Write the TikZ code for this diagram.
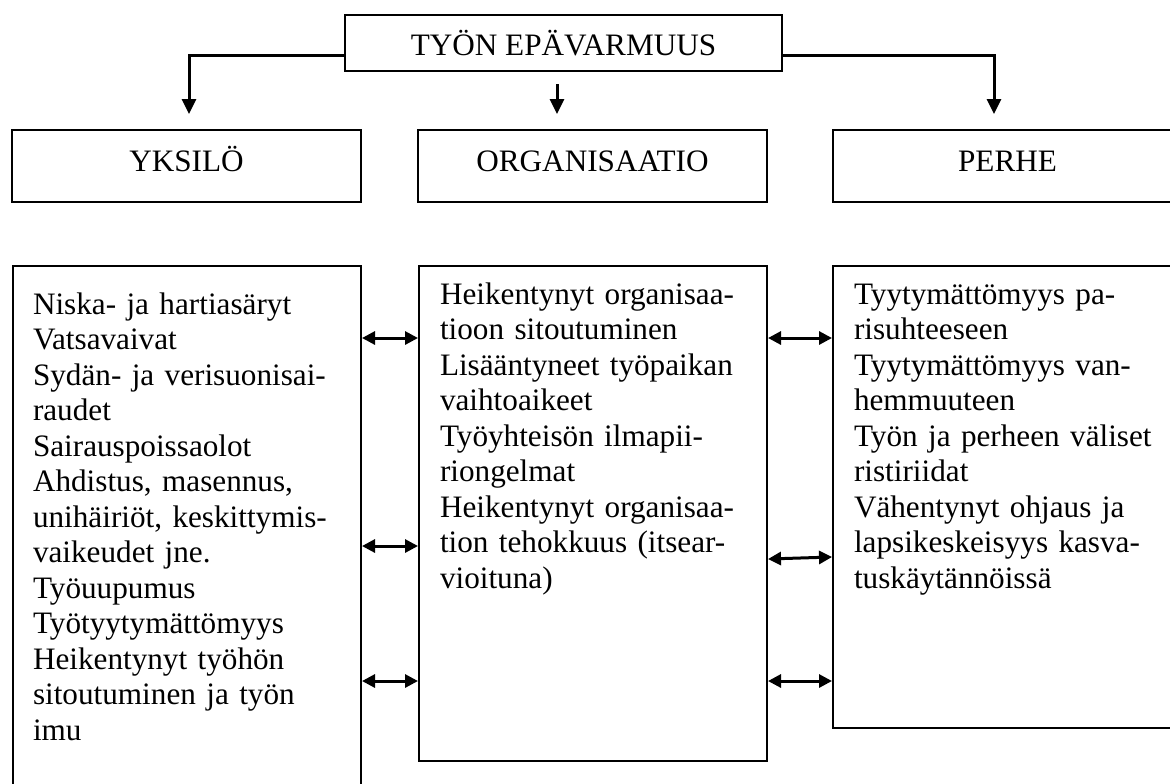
\documentclass[tikz,border=0pt]{standalone}
\usepackage{fontspec}
\setmainfont{Liberation Serif}
\usetikzlibrary{arrows.meta}

\tikzstyle{kehys} = [draw, line width=1pt, inner xsep=0pt, inner ysep=0pt, font=\fontsize{15.6pt}{17.75pt}\selectfont]
\tikzstyle{otsikko} = [kehys, align=center, anchor=north west, minimum width=174.5pt, text height=20.5pt, text depth=15.5pt]
\tikzstyle{seuraus} = [kehys, align=left, anchor=north west, inner xsep=10.5pt, text width=153pt]
\tikzstyle{nuoli} = [line width=1.5pt, -{Triangle[length=7.5pt,width=7pt]}]
\tikzstyle{molemmat} = [line width=1.5pt, {Triangle[length=6.5pt,width=6.5pt]}-{Triangle[length=6.5pt,width=6.5pt]}]

\begin{document}
\begin{tikzpicture}[x=0.5pt, y=-0.5pt]
\useasboundingbox (0,0) rectangle (1170,783);
\clip (0,0) rectangle (1170,783);
%begin top
\node[kehys, anchor=north west, minimum width=218.5pt, text height=20.25pt, text depth=7.75pt] (tyon) at (344,14) {TYÖN EPÄVARMUUS};
%end top
%begin level1
\node[otsikko] (yksilo) at (11,129) {YKSILÖ};
\node[otsikko] (organisaatio) at (417,129) {ORGANISAATIO};
\node[otsikko] (perhe) at (832,129) {PERHE};
%end level1
%begin level2
\node[seuraus, inner xsep=10pt, text width=154pt, text height=24pt, text depth=268.5pt] (oire) at (12,265) {Niska- ja hartiasäryt\\
Vatsavaivat\\
Sydän- ja verisuonisai-\\
raudet\\
Sairauspoissaolot\\
Ahdistus, masennus,\\
unihäiriöt, keskittymis-\\
vaikeudet jne.\\
Työuupumus\\
Työtyytymättömyys\\
Heikentynyt työhön\\
sitoutuminen ja työn\\
imu};
\node[seuraus, text height=19pt, text depth=228.5pt] (org) at (418,265) {Heikentynyt organisaa-\\
tioon sitoutuminen\\
Lisääntyneet työpaikan\\
vaihtoaikeet\\
Työyhteisön ilmapii-\\
riongelmat\\
Heikentynyt organisaa-\\
tion tehokkuus (itsear-\\
vioituna)};
\node[seuraus, text height=19pt, text depth=212pt] (koti) at (832,265) {Tyytymättömyys pa-\\
risuhteeseen\\
Tyytymättömyys van-\\
hemmuuteen\\
Työn ja perheen väliset\\
ristiriidat\\
Vähentynyt ohjaus ja\\
lapsikeskeisyys kasva-\\
tuskäytännöissä};
%end level2
%begin arrows top
\draw[nuoli] (tyon.base west) -| ([xshift=1.25pt, yshift=7.5pt]yksilo.north);
\draw[nuoli] ([xshift=-3.25pt, yshift=-6pt]tyon.south) -- ([xshift=-17.75pt, yshift=7.5pt]organisaatio.north);
\draw[nuoli] (tyon.base east) -| ([xshift=81pt, yshift=7.5pt]perhe.north west);
%end arrows top
%begin arrows between
\draw[molemmat] ([yshift=-36.5pt]oire.north east) -- ([yshift=-36.5pt]org.north west);
\draw[molemmat] ([yshift=-140.5pt]oire.north east) -- ([yshift=-140.5pt]org.north west);
\draw[molemmat] ([yshift=-208pt]oire.north east) -- ([yshift=-208pt]org.north west);
\draw[molemmat] ([yshift=-36.5pt]org.north east) -- ([yshift=-36.5pt]koti.north west);
\draw[molemmat] ([yshift=-147pt]org.north east) -- ([yshift=-146pt]koti.north west);
\draw[molemmat] ([yshift=-208pt]org.north east) -- ([yshift=-208pt]koti.north west);
%end arrows between
\end{tikzpicture}
\end{document}
